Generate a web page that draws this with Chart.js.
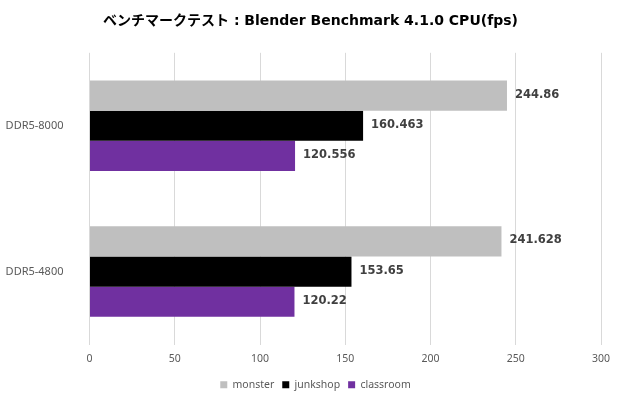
<!DOCTYPE html>
<html>
<head>
<meta charset="utf-8">
<script src="https://cdn.jsdelivr.net/npm/chart.js@4"></script>
<style>
  html, body { margin: 0; padding: 0; background: #fff; }
  #wrap { width: 620px; height: 399px; }
</style>
</head>
<body>
<div id="wrap"><canvas id="benchChart"></canvas></div>
<script>
const categories = ['DDR5-8000', 'DDR5-4800'];
const monster = [244.86, 241.628];
const junkshop = [160.463, 153.65];
const classroom = [120.556, 120.22];
const xTicks = [0, 50, 100, 150, 200, 250, 300];

// value labels drawn right of each bar
const barValueLabels = {
    id: 'barValueLabels',
    afterDatasetsDraw(chart) {
        const ctx = chart.ctx;
        ctx.save();
        ctx.font = 'bold 11.5px "DejaVu Sans", sans-serif';
        ctx.fillStyle = '#404040';
        ctx.textAlign = 'left';
        ctx.textBaseline = 'middle';
        chart.data.datasets.forEach((ds, i) => {
            chart.getDatasetMeta(i).data.forEach((bar, j) => {
                ctx.fillText(String(ds.data[j]), bar.x + 8, bar.y - 1);
            });
        });
        ctx.restore();
    }
};

// title and legend are centred a little right of the canvas middle
const shiftBlocks = {
    id: 'shiftBlocks',
    afterLayout(chart) {
        chart.titleBlock.left += 20;
        chart.legend.left += 30;
        chart.legend.top += 2;
        chart.legend.bottom += 2;
    }
};

document.addEventListener('DOMContentLoaded', () => {
    const ctx = document.getElementById('benchChart').getContext('2d');
    new Chart(ctx, {
        type: 'bar',
        data: {
            labels: categories,
            datasets: [
                { label: 'monster', data: monster, backgroundColor: '#BFBFBF' },
                { label: 'junkshop', data: junkshop, backgroundColor: '#000000' },
                { label: 'classroom', data: classroom, backgroundColor: '#7030A0' }
            ]
        },
        options: {
            indexAxis: 'y',
            responsive: true,
            maintainAspectRatio: false,
            animation: false,
            datasets: {
                bar: { categoryPercentage: 0.62, barPercentage: 1.0 }
            },
            layout: { padding: { left: 0, right: 19, top: 0, bottom: 1 } },
            plugins: {
                title: {
                    display: true,
                    text: 'ベンチマークテスト : Blender Benchmark 4.1.0 CPU(fps)',
                    color: '#000000',
                    font: { family: '"DejaVu Sans", "Noto Sans CJK JP", sans-serif', size: 14, weight: 'bold' },
                    padding: { top: 13, bottom: 23 }
                },
                legend: {
                    position: 'bottom',
                    labels: {
                        boxWidth: 7,
                        boxHeight: 7,
                        padding: 8,
                        color: '#595959',
                        font: { family: '"Noto Sans", sans-serif', size: 10.5 }
                    }
                },
                tooltip: { enabled: false }
            },
            scales: {
                x: {
                    min: 0,
                    max: 300,
                    afterBuildTicks(scale) {
                        scale.ticks = xTicks.map(v => ({ value: v }));
                    },
                    afterFit(scale) { scale.height = 25; },
                    grid: { color: '#D9D9D9', drawTicks: false },
                    border: { display: false },
                    ticks: {
                        padding: 8,
                        color: '#595959',
                        font: { family: '"Noto Sans", sans-serif', size: 10.5 }
                    }
                },
                y: {
                    grid: { display: false, drawTicks: false },
                    border: { display: false },
                    afterFit(scale) { scale.width = 89.5; },
                    ticks: {
                        padding: 26,
                        color: '#595959',
                        font: { family: '"Noto Sans", sans-serif', size: 11 }
                    }
                }
            }
        },
        plugins: [barValueLabels, shiftBlocks]
    });
});
</script>
</body>
</html>
